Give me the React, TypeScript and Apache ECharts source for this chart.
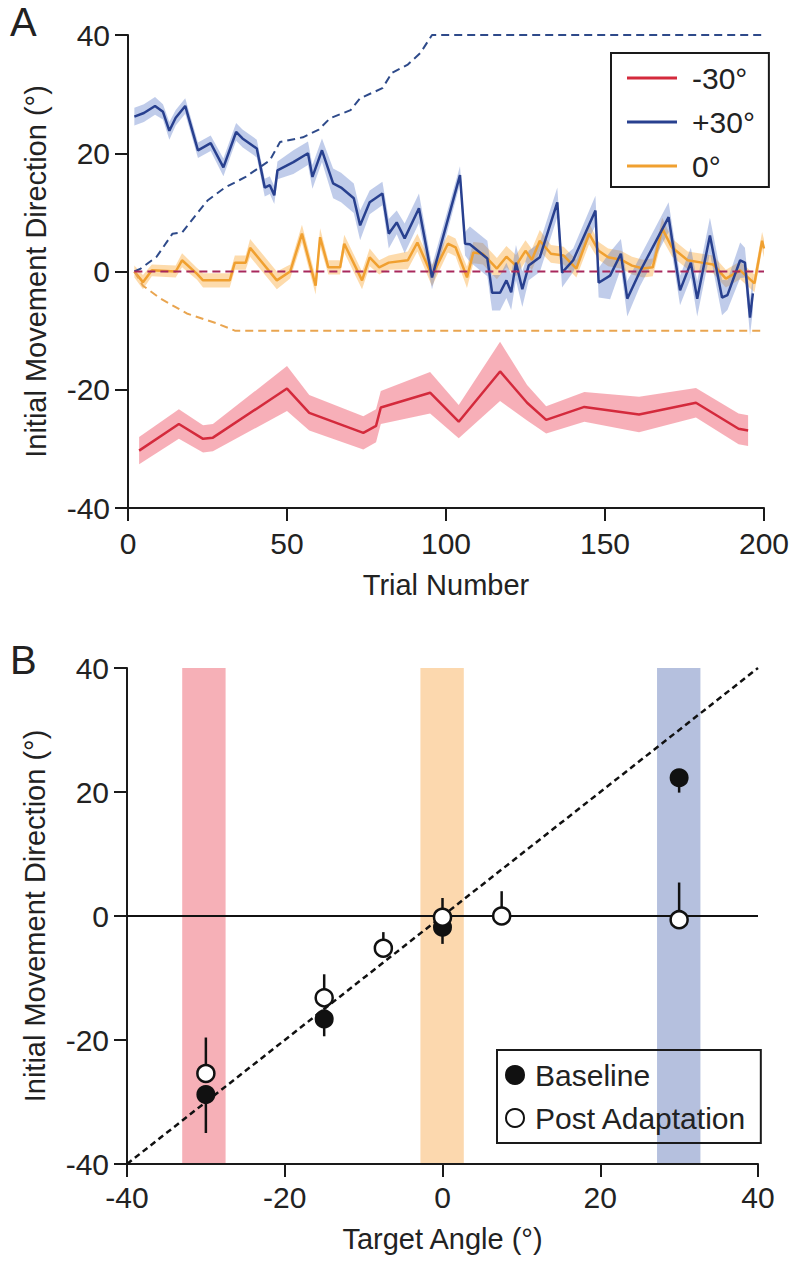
import React, { useEffect, useRef } from "react";
import * as echarts from "echarts";

const FONT = "'Liberation Sans', Arial, sans-serif";

// ---------- Panel A data ----------
const redTrials = [3.5, 16, 23.6, 26.7, 50, 57, 74, 78, 79.5, 95, 104, 117, 125.5, 131.5, 143.5, 160.7, 178.6, 192, 195];
const redMean = [-30.3, -25.8, -28.3, -28.1, -19.8, -23.9, -27.3, -26.1, -23, -20.5, -25.4, -16.9, -22.2, -25.1, -22.9, -24.2, -22.2, -26.6, -26.9];
const redSem = [2.3, 2.5, 2.3, 2.3, 3.8, 3, 2.8, 2.8, 2.8, 3.5, 2.8, 5, 3, 2.3, 2.5, 3, 2.5, 2.6, 2.6];

const blueTrials = [2, 5, 8.5, 11, 13, 15, 18, 22, 26, 30, 34, 36, 40.5, 43, 44.6, 46, 47, 52, 56.6, 58, 61, 64.5, 67, 71, 73, 76, 80, 82, 84.5, 87, 91.5, 95.6, 104.4, 106, 107.5, 113, 114.5, 117, 119, 120.5, 122, 124, 126, 129.5, 135, 136.5, 140, 147, 148, 151.6, 155, 157, 161, 170, 173.6, 177, 179, 183, 186.8, 188.5, 192.5, 194, 195.6, 196.5];
const blueMean = [26.2, 26.8, 28, 27, 23.8, 26, 28, 20.5, 21.7, 17.6, 23.6, 22.5, 20.8, 14.2, 14.6, 12.9, 17.1, 18.5, 20, 16, 20.5, 14.9, 14.2, 12.4, 7.8, 11.7, 13.2, 6.4, 8.3, 5.6, 10.7, -1, 16.3, 4.7, 4.6, 2.2, -3.6, -3.6, -1.5, -3.5, 1.5, -3, 1, 2.4, 11.7, -0.2, 1.9, 10.3, -1.9, -0.7, 3, -4.6, 0, 9.2, -3.2, 1.5, -4.6, 6.1, -4.4, -4, 1.9, 1.5, -7.8, -3.7];
const blueSem = [1.5, 1.5, 1.5, 1.3, 1.5, 1.3, 1.3, 1.3, 1.3, 1.5, 1.5, 1.5, 1.5, 1.5, 1.5, 1.5, 1.5, 2, 2, 2, 2, 2.5, 2.5, 2.5, 2.5, 2, 2, 2.5, 2, 2.5, 2.5, 2, 1.5, 2, 3, 3, 3, 3, 3, 3, 3, 3, 2.5, 2.5, 2.5, 2.5, 2, 2.5, 2.5, 4, 2.5, 3, 2.5, 2.5, 2.5, 2.5, 3, 3, 3, 2.5, 3, 2.5, 3, 3];

const orangeTrials = [2, 4.7, 7.5, 15, 17, 21.7, 23.6, 32, 33.6, 37, 38.4, 46.8, 51, 54.7, 59, 60.4, 63, 66.7, 68, 73.6, 76, 79, 82, 88, 91, 95.6, 100.6, 103, 106.6, 108.6, 111.6, 116, 119, 122, 125, 127, 129.5, 133, 137, 141, 145, 148, 151, 155, 158.5, 162, 165, 168, 171, 176, 180.5, 184, 188, 192.5, 197, 199.4, 200];
const orangeMean = [0, -1.8, 0.2, 0, 1.9, -0.4, -1.5, -1.5, 1.5, 1.5, 4, -1.5, 0, 6.4, -2.4, 5.8, 0.7, 0.7, 4.7, -1.5, 2.4, 0.7, 1.5, 1.9, 4.9, -0.7, 4.7, 4.1, -1, 3.2, 3, 0.5, 2.5, 1, 3.5, 2, 5.2, 3, 2.7, 0.5, 6.4, 3.5, 2.4, 2, 1, 0.5, 0.7, 7.3, 4.1, 1.9, 1.5, 1.2, -1.2, 0.2, -2, 5.2, 3.9];
const orangeSem = [1, 1.2, 1, 1, 1.2, 1, 1.2, 1.2, 1.2, 1.2, 1.5, 1.5, 1.2, 1.5, 1.5, 1.5, 1.2, 1.2, 1.5, 1.5, 1.5, 1.2, 1.2, 1.5, 1.5, 1.8, 1.5, 1.5, 1.8, 1.8, 1.8, 1.8, 1.8, 1.8, 1.8, 1.8, 1.8, 1.5, 1.5, 1.5, 1.8, 1.5, 1.5, 1.5, 1.5, 1.5, 1.5, 1.8, 1.5, 1.5, 1.5, 1.5, 1.5, 1.5, 1.5, 1.5, 1.5];

// perturbation schedules (dashed)
const bluePertTrials = [2, 4, 9, 14, 17, 21.7, 25, 30.5, 37, 44.6, 47.8, 55, 60, 63.5, 70, 73, 80, 83, 88, 92, 95.6, 200];
const bluePert = [0, 0.5, 2.5, 6.4, 6.6, 9.8, 12, 14.2, 16, 18.8, 21.9, 22.7, 24, 25.9, 27.3, 29.3, 31, 33.6, 35, 37, 40, 40];
const orangePertTrials = [2, 4.7, 10, 18.5, 28, 33.6, 200];
const orangePert = [0, -2.4, -4.5, -7.1, -8.8, -10, -10];
const redPertTrials = [2, 200];
const redPert = [0, 0];

// ---------- Panel B data ----------
const baselineX = [-30, -15, 0, 30];
const baselineY = [-28.8, -16.6, -1.8, 22.3];
const baselineErrEnd = [-35, -19.4, -4.5, 19.9];
const postX = [-30, -15, -7.5, 0, 7.5, 30];
const postY = [-25.4, -13.2, -5.2, -0.2, 0, -0.6];
const postErrEnd = [-19.6, -9.4, -2.6, 2.9, 4, 5.4];
const trainLo = [-33, -2.8, 27.2];
const trainHi = [-27.5, 2.7, 32.7];
const trainColors = ["#f6b0b7", "#fcd8ae", "#b5c0de"];
const unityX = [-40, 40];
const unityY = [-40, 40];
const zeroX = [-40, 40];
const zeroY = [0, 0];

const zip = (xs: number[], ys: number[]) => xs.map((x, i) => [x, ys[i]]);

function band(xs: number[], mean: number[], sem: number[], fill: string, axis: number) {
  return {
    type: "custom",
    xAxisIndex: axis,
    yAxisIndex: axis,
    silent: true,
    z: 1,
    encode: { x: 0, y: 1 },
    data: zip(xs, mean),
    renderItem: (params: any, api: any) => {
      if (params.dataIndex !== 0) return null;
      const pts: number[][] = [];
      for (let i = 0; i < xs.length; i++) pts.push(api.coord([xs[i], mean[i] + sem[i]]));
      for (let i = xs.length - 1; i >= 0; i--) pts.push(api.coord([xs[i], mean[i] - sem[i]]));
      return { type: "polygon", shape: { points: pts }, style: { fill } };
    },
  };
}

function errBars(xs: number[], ys: number[], ends: number[]) {
  return {
    type: "custom",
    xAxisIndex: 1,
    yAxisIndex: 1,
    silent: true,
    z: 3,
    encode: { x: 0, y: 1 },
    data: xs.map((x, i) => [x, ys[i], ends[i]]),
    renderItem: (params: any, api: any) => {
      const p1 = api.coord([api.value(0), api.value(1)]);
      const p2 = api.coord([api.value(0), api.value(2)]);
      return {
        type: "line",
        shape: { x1: p1[0], y1: p1[1], x2: p2[0], y2: p2[1] },
        style: { stroke: "#111", lineWidth: 2.5 },
      };
    },
  };
}

const axisCommon = {
  axisLine: { show: true, onZero: false, lineStyle: { color: "#1a1a1a", width: 2 } },
  axisTick: { show: true, inside: false, length: 13, lineStyle: { color: "#1a1a1a", width: 2 } },
  splitLine: { show: false },
  nameTextStyle: { fontFamily: FONT, fontSize: 29, color: "#222" },
};

export default function App() {
  const ref = useRef<HTMLDivElement>(null);
  useEffect(() => {
    if (!ref.current) return;
    const chart = echarts.init(ref.current, null, { renderer: "svg" });
    const option: any = {
      animation: false,
      backgroundColor: "#fff",
      textStyle: { fontFamily: FONT },
      grid: [
        { left: 128, top: 35, width: 636, height: 473 },
        { left: 127, top: 668, width: 631, height: 496 },
      ],
      xAxis: [
        {
          ...axisCommon,
          gridIndex: 0,
          type: "value",
          min: 0,
          max: 200,
          interval: 50,
          name: "Trial Number",
          nameLocation: "middle",
          nameGap: 62,
          axisLabel: { fontFamily: FONT, fontSize: 30, color: "#222", margin: 20 },
        },
        {
          ...axisCommon,
          gridIndex: 1,
          type: "value",
          min: -40,
          max: 40,
          interval: 20,
          name: "Target Angle (°)",
          nameLocation: "middle",
          nameGap: 60,
          axisLabel: { fontFamily: FONT, fontSize: 30, color: "#222", margin: 18 },
        },
      ],
      yAxis: [
        {
          ...axisCommon,
          gridIndex: 0,
          type: "value",
          min: -40,
          max: 40,
          interval: 20,
          name: "Initial Movement Direction (°)",
          nameLocation: "middle",
          nameGap: 78,
          axisLabel: { fontFamily: FONT, fontSize: 30, color: "#222", margin: 18 },
        },
        {
          ...axisCommon,
          gridIndex: 1,
          type: "value",
          min: -40,
          max: 40,
          interval: 20,
          name: "Initial Movement Direction (°)",
          nameLocation: "middle",
          nameGap: 78,
          axisLabel: { fontFamily: FONT, fontSize: 30, color: "#222", margin: 18 },
        },
      ],
      legend: [
        {
          data: ["-30°", "+30°", "0°"],
          orient: "vertical",
          left: 611,
          top: 53,
          padding: [10, 14, 6, 16],
          itemGap: 14,
          itemWidth: 50,
          itemHeight: 3,
          icon: "rect",
          borderColor: "#1a1a1a",
          borderWidth: 2,
          textStyle: { fontFamily: FONT, fontSize: 30, color: "#222", padding: [0, 0, 0, 10] },
        },
        {
          data: ["Baseline", "Post Adaptation"],
          orient: "vertical",
          left: 497,
          top: 1050,
          padding: [10, 14, 10, 8],
          itemGap: 13,
          itemWidth: 18,
          itemHeight: 18,
          borderColor: "#1a1a1a",
          borderWidth: 2,
          textStyle: { fontFamily: FONT, fontSize: 30, color: "#222", padding: [0, 0, 0, 6] },
        },
      ],
      graphic: [
        { type: "text", left: 10, top: 2, style: { text: "A", font: `40px ${FONT}`, fill: "#222" } },
        { type: "text", left: 10, top: 640, style: { text: "B", font: `40px ${FONT}`, fill: "#222" } },
      ],
      series: [
        band(redTrials, redMean, redSem, "rgba(240,110,125,0.55)", 0),
        band(orangeTrials, orangeMean, orangeSem, "rgba(250,175,70,0.45)", 0),
        band(blueTrials, blueMean, blueSem, "rgba(90,120,200,0.38)", 0),
        {
          type: "line",
          name: "0°",
          xAxisIndex: 0,
          yAxisIndex: 0,
          data: zip(orangeTrials, orangeMean),
          showSymbol: false,
          color: "#f0a030",
          lineStyle: { color: "#f0a030", width: 2.5 },
          z: 2,
        },
        {
          type: "line",
          name: "+30°",
          xAxisIndex: 0,
          yAxisIndex: 0,
          data: zip(blueTrials, blueMean),
          showSymbol: false,
          color: "#28408f",
          lineStyle: { color: "#28408f", width: 2.5 },
          z: 3,
        },
        {
          type: "line",
          name: "-30°",
          xAxisIndex: 0,
          yAxisIndex: 0,
          data: zip(redTrials, redMean),
          showSymbol: false,
          color: "#d42a3c",
          lineStyle: { color: "#d42a3c", width: 2.5 },
          z: 3,
        },
        {
          type: "line",
          name: "+30° perturbation",
          xAxisIndex: 0,
          yAxisIndex: 0,
          data: zip(bluePertTrials, bluePert),
          showSymbol: false,
          lineStyle: { color: "#2e4a8a", width: 2, type: [8, 5] },
          z: 4,
        },
        {
          type: "line",
          name: "0° perturbation",
          xAxisIndex: 0,
          yAxisIndex: 0,
          data: zip(orangePertTrials, orangePert),
          showSymbol: false,
          lineStyle: { color: "#e9a550", width: 2, type: [8, 5] },
          z: 4,
        },
        {
          type: "line",
          name: "-30° perturbation",
          xAxisIndex: 0,
          yAxisIndex: 0,
          data: zip(redPertTrials, redPert),
          showSymbol: false,
          lineStyle: { color: "#a8285c", width: 2, type: [8, 5] },
          z: 4,
        },
        // Panel B
        {
          type: "custom",
          xAxisIndex: 1,
          yAxisIndex: 1,
          silent: true,
          z: 0,
          encode: { x: 0, y: 1 },
          data: trainLo.map((lo, i) => [lo, trainHi[i], i]),
          renderItem: (params: any, api: any) => {
            const lo = api.value(0);
            const hi = api.value(1);
            const a = api.coord([lo, 40]);
            const b = api.coord([hi, -40]);
            return {
              type: "rect",
              shape: { x: a[0], y: a[1], width: b[0] - a[0], height: b[1] - a[1] },
              style: { fill: trainColors[api.value(2)] },
            };
          },
        },
        {
          type: "line",
          name: "zero",
          xAxisIndex: 1,
          yAxisIndex: 1,
          data: zip(zeroX, zeroY),
          showSymbol: false,
          lineStyle: { color: "#111", width: 2 },
          z: 1,
        },
        {
          type: "line",
          name: "unity",
          xAxisIndex: 1,
          yAxisIndex: 1,
          data: zip(unityX, unityY),
          showSymbol: false,
          lineStyle: { color: "#111", width: 2.5, type: [6, 4] },
          z: 2,
        },
        errBars(baselineX, baselineY, baselineErrEnd),
        errBars(postX, postY, postErrEnd),
        {
          type: "scatter",
          name: "Baseline",
          xAxisIndex: 1,
          yAxisIndex: 1,
          data: zip(baselineX, baselineY),
          symbol: "circle",
          symbolSize: 17,
          itemStyle: { color: "#111", borderColor: "#111", borderWidth: 2, opacity: 1 },
          z: 5,
        },
        {
          type: "scatter",
          name: "Post Adaptation",
          xAxisIndex: 1,
          yAxisIndex: 1,
          data: zip(postX, postY),
          symbol: "circle",
          symbolSize: 17,
          itemStyle: { color: "#fff", borderColor: "#111", borderWidth: 2.5, opacity: 1 },
          z: 6,
        },
      ],
    };
    chart.setOption(option);
    return () => chart.dispose();
  }, []);
  return (
    <div
      ref={ref}
      style={{ position: "absolute", left: 0, top: 0, width: 800, height: 1287, background: "#fff" }}
    />
  );
}
